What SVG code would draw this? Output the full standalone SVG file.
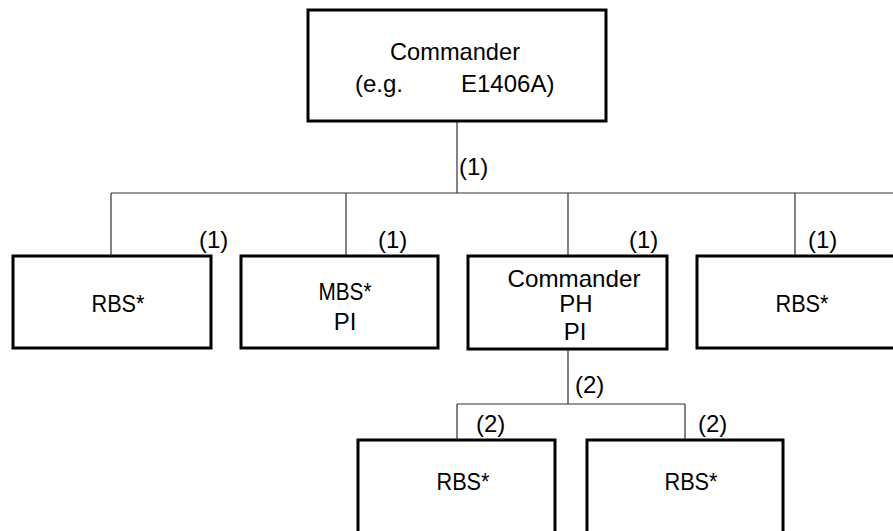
<svg xmlns="http://www.w3.org/2000/svg" width="893" height="531" viewBox="0 0 893 531">
<style>
.box{fill:#fff;stroke:#000;stroke-width:3}
.ln{fill:none;stroke:#333;stroke-width:1.2}
text{font-family:"Liberation Sans",Arial,sans-serif;font-size:24px;fill:#000}
.c{text-anchor:middle}
</style>
<rect width="893" height="531" fill="#fff"/>
<g id="connectors">
<path class="ln" d="M457 121V193M111 193H893M111 193V256M346 193V256M568 193V256M795 193V256"/>
<path class="ln" d="M568 349V404M457 404H685M457 404V440M685 404V440"/>
<text x="459" y="175">(1)</text>
<text x="199" y="248">(1)</text>
<text x="378" y="248">(1)</text>
<text x="629" y="248">(1)</text>
<text x="808" y="248">(1)</text>
<text x="575" y="393">(2)</text>
<text x="476" y="432">(2)</text>
<text x="698" y="432">(2)</text>
</g>
<g id="commander-top">
<rect class="box" x="308" y="10" width="298" height="111"/>
<text class="c" x="455" y="60" textLength="130" lengthAdjust="spacingAndGlyphs">Commander</text>
<text y="92"><tspan x="355">(e.g.</tspan><tspan x="461">E1406A)</tspan></text>
</g>
<g id="rbs-1">
<rect class="box" x="13" y="256" width="198" height="92"/>
<text class="c" x="118" y="312" textLength="53" lengthAdjust="spacingAndGlyphs">RBS*</text>
</g>
<g id="mbs-pi">
<rect class="box" x="241" y="256" width="197" height="92"/>
<text class="c" x="345" y="300" textLength="53" lengthAdjust="spacingAndGlyphs">MBS*</text>
<text class="c" x="345" y="330">PI</text>
</g>
<g id="commander-ph-pi">
<rect class="box" x="468" y="256" width="199" height="93"/>
<text class="c" x="574" y="287" textLength="133" lengthAdjust="spacingAndGlyphs">Commander</text>
<text class="c" x="576" y="312">PH</text>
<text class="c" x="575" y="340">PI</text>
</g>
<g id="rbs-2">
<rect class="box" x="697" y="256" width="200" height="92"/>
<text class="c" x="802" y="312" textLength="53" lengthAdjust="spacingAndGlyphs">RBS*</text>
</g>
<g id="rbs-3">
<rect class="box" x="358" y="440" width="197" height="95"/>
<text class="c" x="463" y="490" textLength="53" lengthAdjust="spacingAndGlyphs">RBS*</text>
</g>
<g id="rbs-4">
<rect class="box" x="587" y="440" width="196" height="95"/>
<text class="c" x="691" y="490" textLength="53" lengthAdjust="spacingAndGlyphs">RBS*</text>
</g>
</svg>
